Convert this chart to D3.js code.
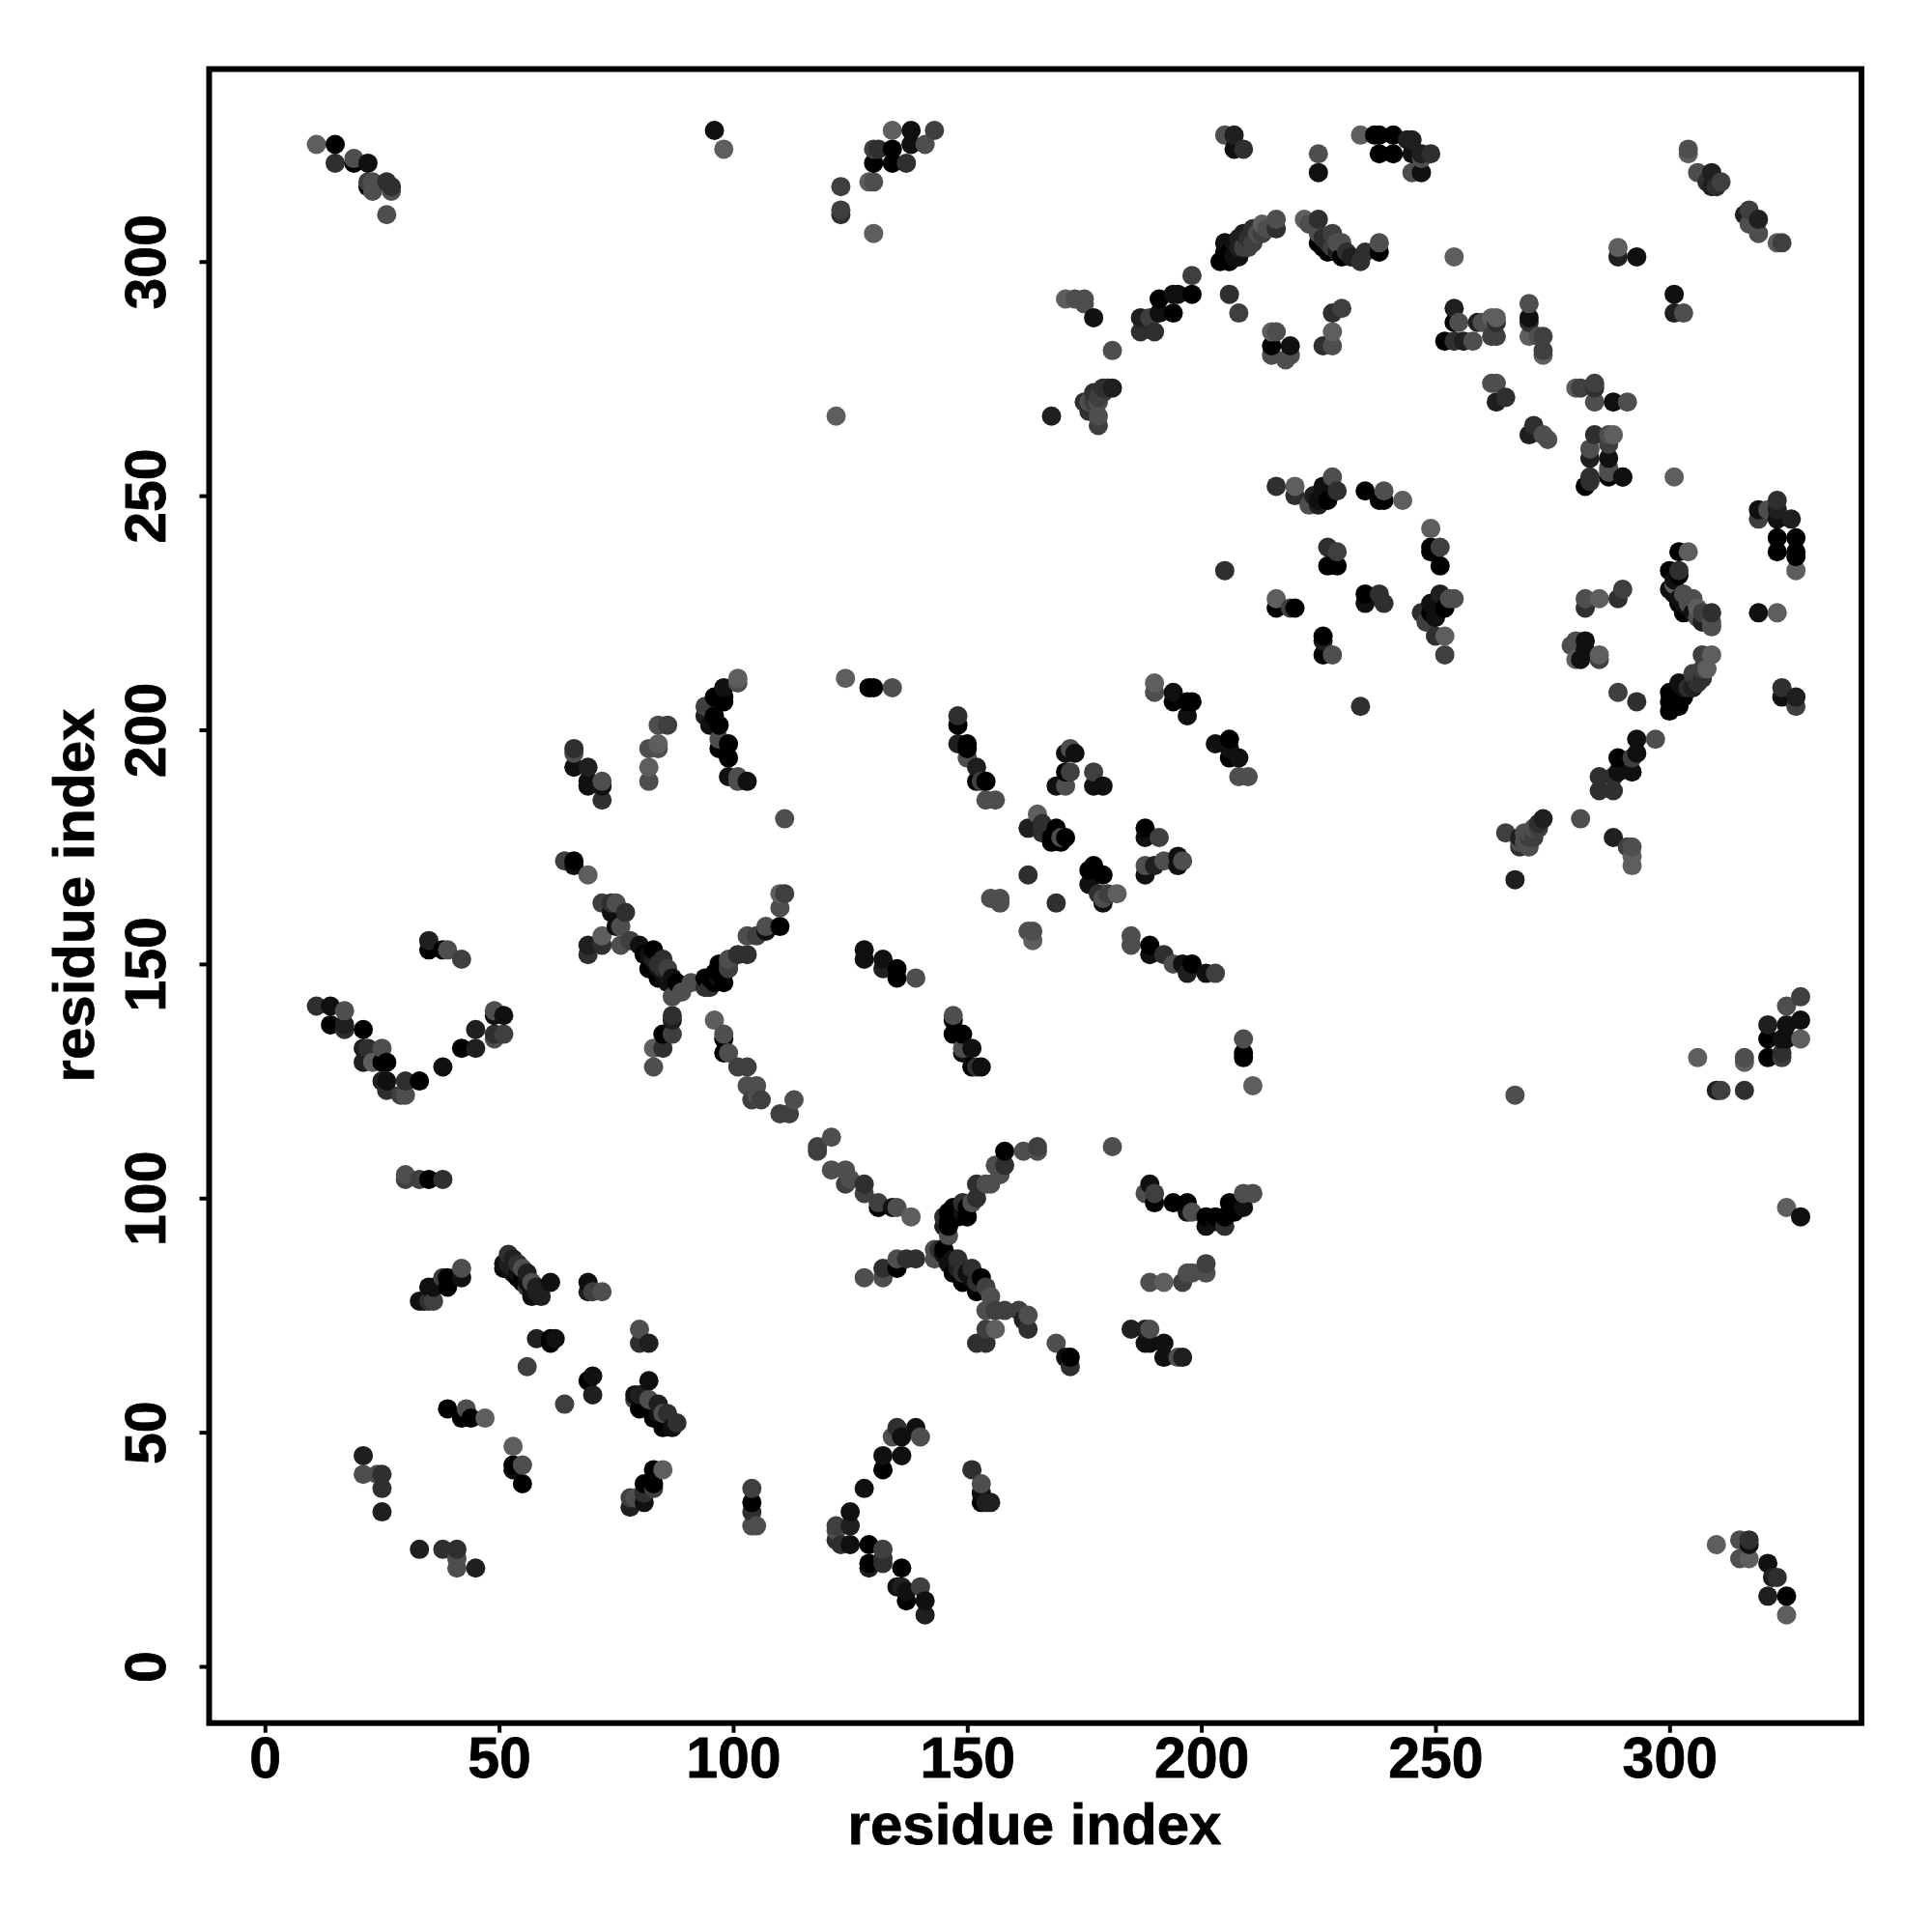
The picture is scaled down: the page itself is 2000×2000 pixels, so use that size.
<!DOCTYPE html>
<html><head><meta charset="utf-8">
<script src="https://cdnjs.cloudflare.com/ajax/libs/d3/7.8.5/d3.min.js"></script>
<style>html,body{margin:0;padding:0;background:#fff}svg{display:block}text{font-family:"Liberation Sans",Arial,sans-serif;font-weight:700;fill:#000}</style>
</head><body><div id="chart"></div>
<script>
// each contact: [residue x, residue y, darkness level 0 (black) .. 6 (lightest)]
const contactsLowLeft=[[33,78,1],[34,78,1],[35,78,3],[36,78,4],[35,81,1],[36,81,1],[39,83,0],[39,81,0],[38,83,4],[42,83,1],[42,85,5],
[51,85,0],[51,86,1],[52,88,3],[53,84,1],[53,87,2],[54,83,0],[54,86,3],[55,85,5],[56,84,2],[55,82,0],[57,82,5],[58,81,2],[58,80,2],[57,79,1],[59,79,2],[61,82,1],
[69,82,1],[69,80,2],[70,80,4],[72,80,5],[80,72,5],[80,69,3],[82,69,2],[58,70,2],[61,70,0],[62,70,1],[61,69,0],[56,64,4],[70,62,1],[69,61,0],[70,58,2],[64,56,4],[82,61,1],
[79,58,1],[79,57,4],[80,58,2],[80,55,0],[82,57,5],[83,53,0],[84,56,2],[85,54,5],[86,54,3],[85,51,0],[87,51,1],[88,52,3],[84,54,1],
[39,55,0],[43,55,5],[42,53,0],[44,53,0],[47,53,6],[53,47,6],[53,43,0],[53,42,1],[55,43,5],[55,39,0],
[83,42,0],[85,42,6],[81,39,0],[83,39,0],[83,38,4],[81,35,1],[78,36,4],[78,34,2],[79,36,5],[81,37,3],
[21,45,2],[21,41,5],[25,41,3],[24,41,5],[25,38,3],[25,33,2],[33,25,2],[38,25,3],[41,25,3],[41,23,5],[41,21,5],[45,21,2],
[104,38,4],[104,35,0],[104,33,3],[105,30,5],[104,30,5]];
const contactsLeftV=[[35,155,2],[35,153,0],[38,153,0],[39,153,5],[42,151,4],[11,141,3],[14,141,1],[17,140,5],[14,137,0],[17,137,2],[17,136,3],[21,136,0],
[21,132,2],[22,132,3],[25,132,5],[21,129,2],[23,129,6],[26,129,0],[25,129,0],[26,125,1],[25,125,2],[26,123,3],[30,125,3],[33,125,0],[30,122,5],[29,122,4],
[38,128,1],[42,132,0],[45,132,2],[45,136,2],[49,140,5],[51,139,1],[49,139,1],[49,135,3],[49,134,5],[51,135,4],[30,105,5],[30,104,4],[33,104,4],[35,104,0],[38,104,3]];
const contactsUpperX=[[101,211,6],[101,210,5],[98,209,1],[96,207,0],[98,207,0],[98,206,0],[94,205,4],[96,203,0],[94,203,2],[95,201,1],[97,201,0],[97,198,5],[99,197,0],[97,196,0],[99,194,0],[99,190,1],[101,190,5],[101,189,5],[103,189,1],
[84,201,5],[86,201,4],[82,196,5],[84,197,6],[84,196,5],[82,192,6],[82,189,5],[66,196,3],[66,195,5],[66,192,1],[69,192,2],[69,189,1],[69,188,1],[72,189,5],[72,188,1],[72,185,3],
[111,181,5],[64,172,4],[66,172,0],[66,171,1],[69,169,6],[72,163,4],[74,163,3],[75,163,5],[74,161,1],[77,161,3],[76,158,5],[75,158,1],[76,154,5],[72,156,6],[69,154,2],[72,154,3],[69,152,3],
[78,155,4],[80,154,1],[81,152,0],[83,153,0],[85,151,3],[82,149,0],[86,149,4],[84,147,0],[86,146,1],[88,146,0],[87,143,5],[89,144,5],[91,146,5],
[87,139,3],[87,138,2],[85,135,0],[87,135,4],[83,132,6],[85,132,3],[83,128,5],
[94,145,3],[95,145,3],[94,147,0],[97,148,0],[98,146,0],[97,150,0],[99,149,4],[99,151,5],[101,152,3],[103,152,3],[103,156,5],[105,156,4],[107,158,5],[110,158,0],[107,157,1],[110,162,5],[110,165,6],[111,165,4],
[96,138,6],[98,135,5],[98,134,0],[98,131,0],[99,131,5],[101,128,4],[103,128,4],[103,124,5],[105,124,5],[106,121,4],[104,121,4],[105,122,5],[113,121,5],[110,118,4],[112,118,4],
[124,211,6],[129,209,0],[130,209,0],[134,209,5],[128,153,1],[128,151,1],[132,151,1],[132,149,2],[135,149,0],[135,147,0],[139,147,5],
[147,139,5],[147,138,0],[149,135,0],[147,135,0],[149,132,5],[151,132,1],[149,131,1],[151,128,0],[153,128,1],[152,128,3],
[148,203,3],[148,201,0],[148,197,2],[150,197,0],[150,196,0],[150,194,5],[152,192,2],[152,189,0],[154,189,0],[153,189,4],[154,185,5],[156,185,5]];
const contactsLowerX=[[121,113,5],[118,111,4],[118,110,4],[121,106,5],[124,106,5],[125,104,5],[124,103,4],[128,103,3],[128,101,4],[131,99,4],[131,98,0],[134,98,1],[135,98,5],[138,96,6],
[158,110,0],[162,110,5],[165,111,4],[165,110,5],[158,107,3],[156,107,5],[157,105,5],[155,103,5],[152,103,3],[154,103,5],[152,100,3],[151,99,5],[149,99,3],[147,98,0],[150,98,0],[148,96,0],[149,97,1],[145,96,3],[145,94,2],[146,95,0],[150,96,0],[146,92,5],
[143,89,5],[143,87,5],[144,89,3],[145,89,0],[146,86,1],[148,87,3],[147,84,0],[149,82,0],[151,85,3],[153,83,0],[152,80,0],[154,81,4],[155,79,5],[154,76,5],[156,76,4],[158,76,4],[161,76,4],[162,74,2],[163,75,5],[163,72,3],[154,72,4],[156,72,6],[152,69,3],[154,69,3],
[139,87,3],[137,87,3],[135,87,5],[135,85,0],[132,85,3],[132,83,5],[128,83,5],[169,69,5],[172,66,0],[171,66,1],[172,64,3],[181,111,5],[211,124,6],[209,130,0],[209,131,0],[209,134,5],
[189,103,1],[190,101,4],[188,101,5],[190,99,0],[194,99,0],[197,99,0],[198,97,5],[197,97,1],[201,96,0],[201,94,1],[203,96,0],[203,95,1],[205,94,3],[205,96,0],[206,99,0],[207,97,0],[209,98,1],[209,101,5],[211,101,5],
[201,86,4],[201,84,5],[197,84,5],[196,82,4],[198,84,5],[192,82,6],[189,82,5],[185,72,2],[189,72,5],[188,72,2],[188,69,1],[189,69,1],[192,69,1],[192,66,1],[195,66,5],[196,66,2],
[135,51,3],[139,51,1],[136,49,1],[134,49,5],[140,49,5],[132,45,1],[136,45,1],[132,42,0],[128,38,1],[151,42,3],[153,39,5],[153,37,1],[153,35,0],[155,35,2],[154,35,2],
[125,33,1],[122,29,5],[122,27,3],[125,30,2],[122,30,4],[123,26,3],[125,26,1],[129,26,0],[132,25,4],[129,22,0],[129,21,2],[132,22,3],[132,23,3],[136,21,0],[136,17,2],[140,17,4],[137,14,0],[141,14,1],[141,11,2],[135,17,1],[137,16,1]];
const contactsCentre=[[165,182,6],[163,179,2],[166,180,3],[166,178,3],[169,179,0],[168,177,0],[171,177,0],[170,177,5],[168,176,0],[170,176,0],[163,169,3],[169,163,3],[155,164,5],[157,164,5],[157,163,5],[163,157,5],[164,157,5],[164,155,6],
[172,196,5],[173,195,1],[171,195,1],[172,191,4],[171,191,0],[177,191,4],[169,188,1],[171,188,5],[177,188,1],[179,188,1],
[177,171,0],[176,170,0],[179,169,0],[176,167,1],[178,165,3],[180,165,4],[182,165,6],[179,163,1],[179,164,5],[188,179,0],[188,177,1],[191,177,4],[188,171,5],[188,169,1],[190,171,2],[192,172,5],[195,173,1],[195,171,1],[196,172,5],
[190,210,6],[190,208,5],[194,208,1],[194,206,0],[197,206,0],[198,206,0],[197,203,1],[203,197,1],[206,198,0],[206,196,1],[206,194,0],[208,194,1],[208,190,5],[210,190,5],
[185,156,5],[185,154,5],[189,154,0],[189,152,1],[192,152,3],[194,150,5],[196,150,1],[198,150,0],[197,148,2],[201,148,1],[203,148,4]];
const contactsMidRight=[[216,252,3],[220,252,6],[220,250,3],[223,248,5],[224,250,2],[225,248,2],[226,252,1],[226,250,1],[227,249,0],[228,254,5],[229,251,3],[225,249,1],[235,251,0],[239,251,5],[238,249,0],[239,249,0],[243,249,6],
[249,243,6],[249,239,0],[251,239,4],[249,238,0],[251,235,0],[227,239,3],[229,238,4],[227,235,0],[229,235,0],[205,234,3],[216,228,6],[216,226,0],[219,226,4],[220,226,0],[226,220,0],[226,219,2],[226,216,0],[228,216,5],
[235,229,0],[235,227,1],[238,229,3],[239,227,3],[251,229,2],[252,226,0],[254,228,5],[253,228,5],[249,227,1],[247,225,3],[249,225,0],[250,224,1],[248,223,4],[250,220,3],[252,220,6],[252,216,4],[234,205,3],
[301,254,6],[282,252,0],[283,254,3],[283,253,3],[287,255,5],[287,254,0],[290,254,3],[319,247,1],[319,245,4],[323,249,3],[323,247,2],[323,245,1],[321,247,5],[326,245,2],[323,241,0],[327,241,0],[323,238,0],[327,238,0],[327,237,0],[327,234,6],[319,225,1],[323,225,6],
[302,238,0],[304,238,6],[300,234,0],[302,233,0],[302,234,3],[300,230,1],[301,231,6],[302,227,0],[303,229,5],[305,228,5],[303,225,0],[306,226,6],[309,225,3],[309,223,5],[309,222,5],
[282,228,5],[282,226,3],[285,228,6],[289,228,3],[290,230,4],[280,219,5],[279,218,5],[282,219,1],[280,215,6],[281,215,1],[282,217,1],[285,216,6],[285,215,4],[289,208,4],[293,206,3],
[307,216,4],[309,216,6],[308,213,6],[305,212,4],[306,210,3],[302,210,1],[304,209,3],[303,207,0],[300,208,0],[302,205,0],[300,204,0],[300,206,0],[324,209,3],[324,207,1],[327,207,2],[327,205,4],
[293,198,1],[297,198,5],[293,195,1],[289,194,0],[292,194,4],[292,191,1],[289,191,1],[288,190,3],[285,190,3],[285,187,3],[288,187,3],[281,181,5],
[273,181,2],[272,180,3],[271,179,5],[270,178,5],[269,176,5],[268,177,2],[265,178,4],[270,175,5],[268,175,3],[267,168,2],[288,177,2],[291,175,4],[292,175,5],[292,173,6],[292,171,6],
[267,122,5],[306,130,6],[310,123,2],[311,123,4],[316,123,3],[316,129,6],[316,130,5],[321,137,2],[321,134,0],[321,130,0],[325,141,5],[325,137,1],[324,134,1],[325,134,1],[324,130,4],[324,131,3],[328,143,4],[328,138,1],[328,134,6],[325,98,6],[328,96,1],
[310,26,6],[315,27,5],[317,27,3],[315,23,5],[317,26,1],[317,23,6],[321,22,1],[322,19,2],[323,19,3],[321,15,2],[325,15,0],[325,11,6]];
const contactsTop=[[205,327,5],[207,327,2],[207,324,1],[209,324,3],[225,323,5],[225,319,1],[234,327,6],[237,327,0],[238,327,0],[241,327,0],[238,323,0],[241,323,0],[244,326,2],[245,326,2],[245,323,1],[247,322,5],[247,323,2],[249,323,3],[245,319,5],[247,319,1],
[216,309,5],[216,307,3],[213,308,6],[212,306,5],[210,303,4],[211,307,3],[209,306,2],[209,303,4],[208,301,1],[207,304,1],[205,302,0],[204,300,0],[206,300,0],[198,297,4],[198,293,0],[194,293,1],[195,293,1],[194,289,0],[191,292,0],[191,289,1],[187,288,2],[189,288,4],[187,285,3],[190,285,3],
[171,292,6],[173,292,5],[175,292,5],[175,291,5],[177,288,1],[181,281,5],[168,267,2],[181,273,2],[180,273,3],[179,272,4],[177,272,3],[176,270,5],[175,270,3],[178,270,5],[178,267,5],[178,265,4],[176,268,3],
[206,293,3],[208,289,4],[215,285,6],[216,285,5],[215,282,0],[219,282,1],[215,280,5],[218,279,5],[219,280,5],[226,282,3],[228,282,5],[228,285,6],[228,289,3],[230,290,4],
[222,309,6],[225,309,3],[223,308,5],[225,306,5],[225,304,0],[228,306,4],[227,302,0],[230,304,5],[230,301,0],[235,302,3],[234,300,3],[238,304,5],[238,302,0],[232,301,2],[254,301,6],
[254,290,2],[255,287,5],[254,287,0],[252,283,0],[254,283,3],[256,283,2],[258,283,5],[259,287,2],[260,287,5],[262,288,6],[262,284,4],
[304,323,6],[304,324,5],[306,319,5],[309,319,2],[308,317,3],[309,316,2],[311,317,4],[310,316,3],[317,311,4],[316,310,2],[317,308,5],[319,309,2],[319,306,5],[323,304,6],[324,304,4],[289,303,6],[289,301,2],[293,301,1],[301,293,1],[301,289,2],[303,289,5],
[270,291,5],[270,288,1],[270,287,3],[270,284,6],[273,284,4],[272,284,5],[273,281,4],[273,280,6],[263,288,6],[263,284,4],[263,287,3],[262,274,5],[263,274,5],[263,270,2],[265,271,3],[280,273,6],[281,273,4],[284,274,4],[284,273,3],[284,270,5],[288,270,1],[291,270,5],
[271,265,3],[270,263,2],[273,263,5],[274,262,5],[284,263,3],[288,263,6],[287,263,5],[283,260,5],[287,261,4],[287,258,1],[283,258,2],[287,256,5],[290,254,1],
[11,325,6],[15,325,0],[15,321,3],[19,322,5],[19,321,0],[22,321,1],[22,317,4],[23,317,5],[23,315,5],[22,316,0],[26,317,3],[27,316,3],[27,315,5],[26,310,5],
[96,328,1],[98,324,6],[134,328,6],[138,328,1],[143,328,4],[134,324,0],[138,325,1],[141,325,5],[130,324,4],[131,324,3],[130,321,0],[134,321,0],[137,321,3],[123,316,4],[129,317,6],[130,317,5],[123,311,4],[123,310,3],[130,306,6],[122,267,6]];
const contactsBands=[[301,232,1],[301,229,1],[302,228,1],[303,227,1],[304,226,1],[305,225,1],[304,227,5],[306,224,5],[307,225,4],[307,223,2],
[301,207,0],[302,207,0],[303,209,1],[305,209,2],[306,212,4],[307,211,3],[307,213,4],[269,178,5],[270,177,4],[271,177,4],[272,179,4],[268,176,5],
[205,304,1],[206,302,0],[207,301,1],[208,303,2],[208,305,2],[210,305,3],[211,304,4],[213,306,4],[214,307,5],
[95,147,0],[96,146,0],[96,148,0],[98,148,0],[97,147,1],[99,150,4],[82,152,1],[83,151,2],[84,150,3],[85,149,3],[86,148,2],[87,147,1],[84,149,1],[83,150,0],[85,148,1],
[146,97,0],[147,96,0],[148,97,0],[146,94,0],[145,88,1],[147,87,1],[148,85,2],[149,84,3],[150,84,1],[151,83,1],[152,82,3],
[226,305,3],[228,303,4],[229,302,2],[229,304,5],[231,302,3],[226,303,0],[227,304,3],[177,270,4],[178,271,4],[179,273,3],
[52,85,1],[53,85,2],[54,84,1],[55,83,0],[56,82,1],[52,86,2],[56,81,4],[57,80,1]];
const xTickValues=[0,50,100,150,200,250,300];
const yTickValues=[0,50,100,150,200,250,300];
const xTitle="residue index", yTitle="residue index";

const L=216.5,R=1927,T=71.5,B=1783.7;
const x=d3.scaleLinear().domain([-11.92,341]).range([L,R]);
const y=d3.scaleLinear().domain([-12.1,341.1]).range([B,T]);
const grey=d3.scaleLinear().domain([0,6]).range(["#000000","#5e5e5e"]);
const points=[].concat(contactsLowLeft,contactsLeftV,contactsUpperX,contactsLowerX,contactsCentre,contactsMidRight,contactsTop,contactsBands)
  .sort((a,b)=>d3.ascending(a[0],b[0])||d3.ascending(a[1],b[1]));

const svg=d3.select("#chart").append("svg").attr("width",2000).attr("height",2000);
svg.append("rect").attr("width",2000).attr("height",2000).attr("fill","#fff");
svg.append("g").selectAll("circle").data(points).join("circle")
  .attr("cx",d=>x(d[0])).attr("cy",d=>y(d[1])).attr("r",10).attr("fill",d=>grey(d[2]));
svg.append("rect").attr("x",L).attr("y",T).attr("width",R-L).attr("height",B-T)
  .attr("fill","none").attr("stroke","#000").attr("stroke-width",6);

const gx=svg.append("g").attr("transform",`translate(0,${B})`)
  .call(d3.axisBottom(x).tickValues(xTickValues).tickSize(10));
const gy=svg.append("g").attr("transform",`translate(${L},0)`)
  .call(d3.axisLeft(y).tickValues(yTickValues).tickSize(10));
[gx,gy].forEach(g=>{g.select(".domain").remove();g.selectAll("line").attr("stroke","#000").attr("stroke-width",4);
  g.attr("font-family",null);
  g.selectAll("text").attr("font-size",59).style("stroke","#000").style("stroke-width",0.8);});
gx.selectAll("text").attr("y",0).attr("dy",0).attr("transform",`translate(0,${1840-B})`).attr("text-anchor","middle");
gy.selectAll("text").attr("x",0).attr("dy",0).attr("transform",`translate(${171-L},0) rotate(-90)`).attr("text-anchor","middle");
svg.append("text").attr("x",1071).attr("y",1909).attr("text-anchor","middle").attr("font-size",60).style("stroke","#000").style("stroke-width",0.8).text(xTitle);
svg.append("text").attr("transform","translate(97,927) rotate(-90)").attr("text-anchor","middle").attr("font-size",60).style("stroke","#000").style("stroke-width",0.8).text(yTitle);
</script></body></html>
